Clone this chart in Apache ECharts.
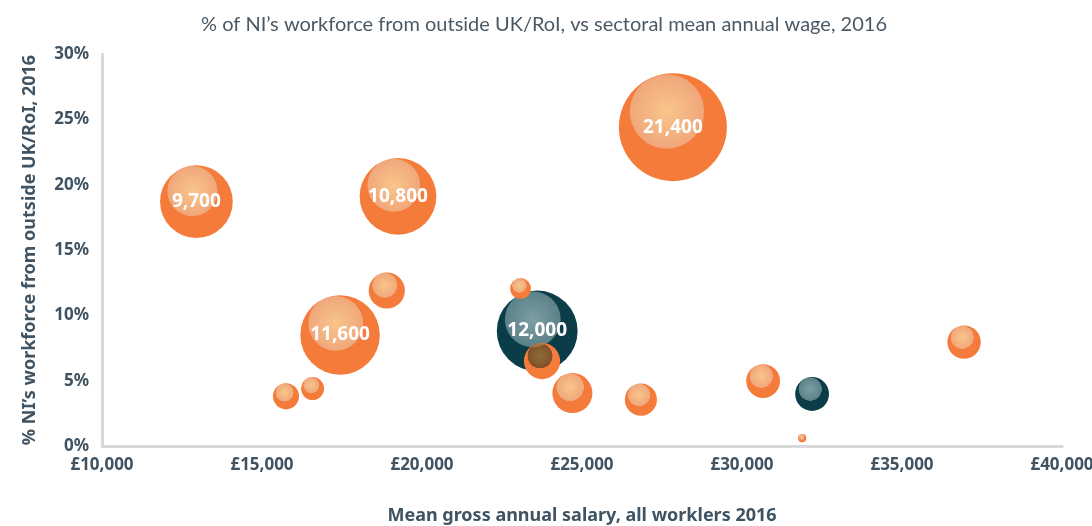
<!DOCTYPE html>
<html>
<head>
<meta charset="utf-8">
<script src="https://cdn.jsdelivr.net/npm/echarts@6/dist/echarts.min.js"></script>
<style>
html,body{margin:0;padding:0;background:#fff;}
#chart{width:1092px;height:526px;}
</style>
</head>
<body>
<div id="chart"></div>
<script>
// Data: [mean salary (£), % workforce from outside UK/RoI, workforce count]
var orangeSalary = [12950, 19250, 27840, 17440, 23750, 23080, 18900, 15750, 16580, 24700, 26840, 30660, 31880, 36940];
var orangePct    = [18.7, 19.1, 24.4, 8.5, 6.5, 12.05, 11.9, 3.8, 4.4, 4.05, 3.55, 4.97, 0.6, 7.95];
var orangeCount  = [9700, 10800, 21400, 11600, 2400, 800, 2400, 1250, 970, 2950, 1900, 2100, 120, 2050];
var orangeLabel  = [true, true, true, true, false, false, false, false, false, false, false, false, false, false];

var tealSalary = [23600, 32190];
var tealPct    = [8.8, 3.98];
var tealCount  = [12000, 2100];
var tealLabel  = [true, false];

var xTicks = [10000, 15000, 20000, 25000, 30000, 35000, 40000];
var yTicks = [0, 5, 10, 15, 20, 25, 30];

function build(sal, pct, cnt, lab) {
  return sal.map(function (s, i) {
    return { value: [s, pct[i], cnt[i]], showLabel: lab[i] };
  });
}

function grad(centerColor, edgeColor, outerColor) {
  return {
    type: 'radial', x: 0.445, y: 0.355, r: 0.35,
    colorStops: [
      { offset: 0, color: centerColor },
      { offset: 0.965, color: edgeColor },
      { offset: 1, color: outerColor }
    ]
  };
}

var sizeFn = function (v) { return 0.738 * Math.sqrt(v[2]); };
var labelCfg = {
  show: true,
  position: 'inside',
  color: '#ffffff',
  fontFamily: 'Noto Sans',
  fontWeight: 'bold',
  fontSize: 19,
  formatter: function (p) {
    return p.data.showLabel ? p.value[2].toLocaleString('en-GB') : '';
  }
};

var textColor = '#3f5363';
var chart = echarts.init(document.getElementById('chart'), null, { renderer: 'canvas' });
chart.setOption({
  animation: false,
  backgroundColor: '#ffffff',
  title: {
    text: '% of NI’s workforce from outside UK/RoI, vs sectoral mean annual wage, 2016',
    left: 539,
    textAlign: 'center',
    top: 10,
    textStyle: { color: '#4b5966', fontFamily: 'Lato', fontWeight: 'normal', fontSize: 20 }
  },
  grid: { left: 102, right: 30, top: 54, bottom: 80, containLabel: false, outerBoundsMode: 'none' },
  xAxis: {
    type: 'value',
    min: xTicks[0],
    max: xTicks[xTicks.length - 1],
    interval: 5000,
    name: 'Mean gross annual salary, all worklers 2016',
    nameLocation: 'middle',
    nameGap: 61,
    nameTextStyle: { color: textColor, fontFamily: 'Noto Sans', fontWeight: 'bold', fontSize: 18 },
    axisLine: { show: true, lineStyle: { color: '#d9d9d9', width: 3 } },
    axisTick: { show: false },
    splitLine: { show: false },
    axisLabel: {
      color: textColor, fontFamily: 'Noto Sans', fontWeight: 'bold', fontSize: 17, margin: 11,
      formatter: function (v) { return '£' + v.toLocaleString('en-GB'); }
    }
  },
  yAxis: {
    type: 'value',
    min: yTicks[0],
    max: yTicks[yTicks.length - 1],
    interval: 5,
    name: '% NI’s workforce from outside UK/RoI, 2016',
    nameLocation: 'middle',
    nameGap: 63,
    nameTextStyle: { color: textColor, fontFamily: 'Noto Sans', fontWeight: 'bold', fontSize: 18 },
    axisLine: { show: true, lineStyle: { color: '#d9d9d9', width: 3 } },
    axisTick: { show: false },
    splitLine: { show: false },
    axisLabel: {
      color: textColor, fontFamily: 'Noto Sans', fontWeight: 'bold', fontSize: 17, margin: 13,
      formatter: '{value}%'
    }
  },
  series: [
    {
      type: 'scatter',
      name: 'teal',
      symbol: 'circle',
      symbolSize: sizeFn,
      data: build(tealSalary, tealPct, tealCount, tealLabel),
      itemStyle: { color: grad('#7e9fa3', '#5b8288', '#0b3d49'), opacity: 1 },
      label: labelCfg,
      z: 2
    },
    {
      type: 'scatter',
      name: 'orange',
      symbol: 'circle',
      symbolSize: sizeFn,
      data: build(orangeSalary, orangePct, orangeCount, orangeLabel),
      itemStyle: { color: grad('rgba(244,150,42,0.55)', 'rgba(228,95,15,0.55)', '#f47b3a'), opacity: 1 },
      label: labelCfg,
      z: 3
    }
  ]
});
</script>
</body>
</html>
